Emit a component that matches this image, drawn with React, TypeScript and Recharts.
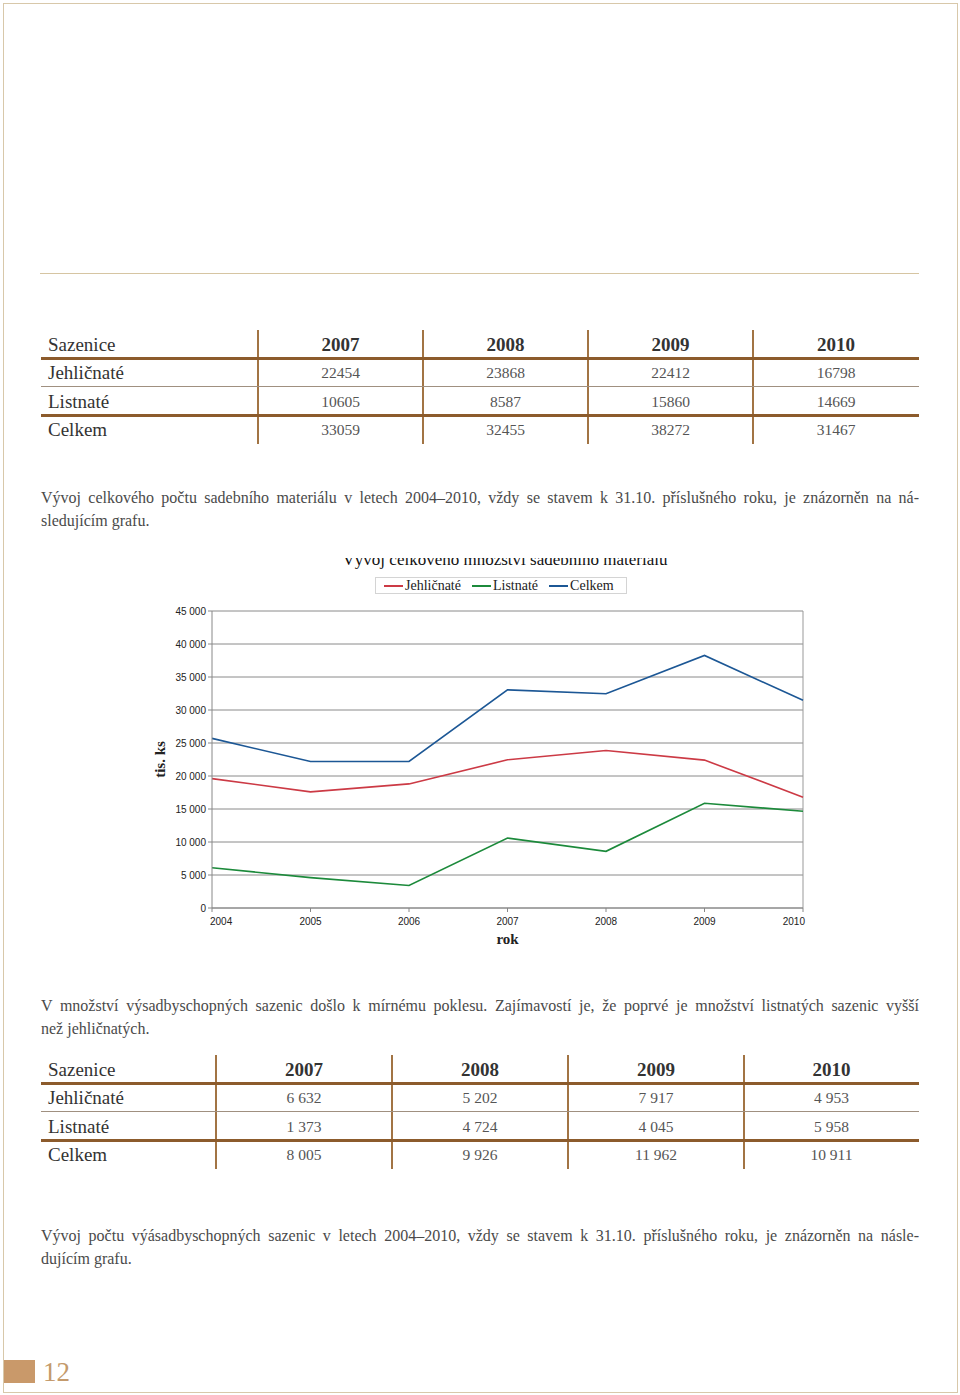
import React from 'react'
import {
  LineChart,
  Line,
  XAxis,
  YAxis,
  CartesianGrid,
  Legend,
  ReferenceLine,
} from 'recharts'

// chart data (tis. ks, stav k 31.10.)
const years = ['2004', '2005', '2006', '2007', '2008', '2009', '2010']
const jehlicnate = [19600, 17600, 18800, 22454, 23868, 22412, 16798]
const listnate = [6100, 4600, 3400, 10605, 8587, 15860, 14669]
const celkem = [25700, 22200, 22200, 33059, 32455, 38272, 31467]
const yTicks = [0, 5000, 10000, 15000, 20000, 25000, 30000, 35000, 40000, 45000]

// tables
const tableYears = ['2007', '2008', '2009', '2010']
const rowLabels = ['Jehličnaté', 'Listnaté', 'Celkem']
const sadebni = [
  ['22454', '23868', '22412', '16798'],
  ['10605', '8587', '15860', '14669'],
  ['33059', '32455', '38272', '31467'],
]
const vysadbyschopne = [
  ['6 632', '5 202', '7 917', '4 953'],
  ['1 373', '4 724', '4 045', '5 958'],
  ['8 005', '9 926', '11 962', '10 911'],
]

const SERIF = '"Liberation Serif", "DejaVu Serif", serif'
const SANS = '"Liberation Sans", Arial, sans-serif'
const BROWN = '#8c5b2c'
const TAN = '#c9996a'

const chartData = years.map((year, i) => ({
  year,
  jehl: jehlicnate[i],
  list: listnate[i],
  celk: celkem[i],
}))

const series = [
  { key: 'jehl', name: 'Jehličnaté', color: '#cc3a45' },
  { key: 'list', name: 'Listnaté', color: '#1c8a3b' },
  { key: 'celk', name: 'Celkem', color: '#1c5795' },
]

const fmt = (v: number) => (v >= 1000 ? `${Math.floor(v / 1000)} ${String(v % 1000).padStart(3, '0')}` : String(v))

function XTick(props: any) {
  const { x, y, payload, index } = props
  const last = years.length - 1
  const anchor = index === 0 ? 'start' : index === last ? 'end' : 'middle'
  const dx = index === 0 ? -2 : index === last ? 2 : 0
  return (
    <text x={x + dx} y={y + 4} dy="0.71em" textAnchor={anchor} fontSize={10} fill="#222" fontFamily={SANS}>
      {payload.value}
    </text>
  )
}

function ChartLegend() {
  return (
    <div
      style={{
        display: 'flex',
        alignItems: 'center',
        height: 15,
        border: '1px solid #d4d4d4',
        padding: '0 12px 0 8px',
        fontFamily: SERIF,
        fontSize: 14,
        color: '#222',
        background: '#fff',
      }}
    >
      {series.map((s, i) => (
        <span key={s.key} style={{ display: 'flex', alignItems: 'center', marginLeft: i ? 11 : 0 }}>
          <span style={{ display: 'inline-block', width: 19, height: 2, background: s.color, marginRight: 2 }} />
          {s.name}
        </span>
      ))}
    </div>
  )
}

function Para({ top, lines }: { top: number; lines: string[] }) {
  return (
    <div style={{ position: 'absolute', left: 41, top, width: 878, fontFamily: SERIF, fontSize: 16, color: '#4a4a4a' }}>
      {lines.map((l, i) => (
        <div
          key={i}
          style={{
            height: 23,
            lineHeight: '23px',
            textAlign: 'justify',
            textAlignLast: i < lines.length - 1 ? 'justify' : 'left',
            whiteSpace: 'nowrap',
          }}
        >
          {l}
        </div>
      ))}
    </div>
  )
}

function DataTable({
  top,
  cols,
  values,
}: {
  top: number
  cols: number[]
  values: string[][]
}) {
  // top = centre of header row; cols = column edges (first one is the label column)
  const rowH = 28.5
  const cell = (txt: string, cx: number, cy: number, style: React.CSSProperties, key: string) => (
    <div
      key={key}
      style={{
        position: 'absolute',
        left: cx - 80,
        width: 160,
        top: cy - 12,
        height: 24,
        lineHeight: '24px',
        textAlign: 'center',
        ...style,
      }}
    >
      {txt}
    </div>
  )
  const dataCols = cols.slice(1)
  const centers = dataCols.slice(0, -1).map((c, i) => (c + dataCols[i + 1]) / 2)
  const rowsY = [top, top + 28, top + 28 + rowH, top + 28 + rowH * 2]
  const hline = (y: number, h: number, color: string, key: string) => (
    <div key={key} style={{ position: 'absolute', left: 41, width: 878, top: y, height: h, background: color }} />
  )
  return (
    <>
      {dataCols.slice(0, -1).map((c, i) => (
        <div
          key={'v' + i}
          style={{ position: 'absolute', left: c - 1, top: top - 15, width: 2, height: 114, background: '#a27444' }}
        />
      ))}
      {hline(top + 12, 3, BROWN, 'h1')}
      {hline(top + 41, 1, '#a09080', 'h2')}
      {hline(top + 68.5, 3, BROWN, 'h3')}
      <div
        style={{
          position: 'absolute',
          left: 48,
          top: top - 12,
          height: 24,
          lineHeight: '24px',
          fontFamily: SERIF,
          fontSize: 19,
          color: '#333',
        }}
      >
        Sazenice
      </div>
      {tableYears.map((y, i) =>
        cell(y, centers[i], top, { fontFamily: SERIF, fontSize: 19, fontWeight: 'bold', color: '#333' }, 'y' + i),
      )}
      {rowLabels.map((label, r) => (
        <div
          key={'l' + r}
          style={{
            position: 'absolute',
            left: 48,
            top: rowsY[r + 1] - 12,
            height: 24,
            lineHeight: '24px',
            fontFamily: SERIF,
            fontSize: 19,
            color: '#333',
          }}
        >
          {label}
        </div>
      ))}
      {values.map((row, r) =>
        row.map((v, i) =>
          cell(v, centers[i], rowsY[r + 1], { fontFamily: SERIF, fontSize: 15.5, color: '#555' }, `c${r}-${i}`),
        ),
      )}
    </>
  )
}

export default function App() {
  return (
    <div
      style={{
        position: 'absolute',
        left: 0,
        top: 0,
        width: 960,
        height: 1395,
        background: '#fff',
        overflow: 'hidden',
      }}
    >
      {/* page frame */}
      <div
        style={{
          position: 'absolute',
          left: 3,
          top: 3,
          width: 953,
          height: 1388,
          border: '1px solid #d8c8aa',
        }}
      />
      <div style={{ position: 'absolute', left: 40, top: 273, width: 879, height: 1, background: '#d6c5a2' }} />

      <DataTable top={345} cols={[41, 258, 423, 588, 753, 919]} values={sadebni} />

      <Para
        top={486}
        lines={[
          'Vývoj celkového počtu sadebního materiálu v letech 2004–2010, vždy se stavem k 31.10. příslušného roku, je znázorněn na ná-',
          'sledujícím grafu.',
        ]}
      />

      {/* chart title, clipped at the top as in the scan */}
      <div style={{ position: 'absolute', left: 300, top: 558, width: 410, height: 11, overflow: 'hidden' }}>
        <div
          style={{
            position: 'absolute',
            top: -8,
            width: 410,
            textAlign: 'center',
            fontFamily: SERIF,
            fontSize: 17,
            lineHeight: '20px',
            color: '#111',
          }}
        >
          Vývoj celkového množství sadebního materiálu
        </div>
      </div>

      <div style={{ position: 'absolute', left: 140, top: 550 }}>
        <LineChart width={680} height={420} data={chartData} margin={{ top: 44, right: 17, left: 12, bottom: 42 }}>
          <CartesianGrid vertical={false} stroke="#8a8a8a" strokeWidth={1} />
          <XAxis
            dataKey="year"
            scale="point"
            padding={{ left: 0, right: 0 }}
            height={20}
            tickSize={4}
            tickMargin={2}
            tick={<XTick />}
            interval={0}
            stroke="#888"
            label={{
              value: 'rok',
              position: 'bottom',
              offset: 5,
              style: { fontFamily: SERIF, fontSize: 15, fontWeight: 'bold', fill: '#222' },
            }}
          />
          <YAxis
            width={60}
            domain={[0, 45000]}
            ticks={yTicks}
            tickFormatter={fmt}
            tickSize={4}
            tickMargin={2}
            stroke="#888"
            tick={{ fontSize: 10, fill: '#222', fontFamily: SANS }}
            label={{
              value: 'tis. ks',
              angle: -90,
              position: 'insideLeft',
              offset: 8,
              style: { fontFamily: SERIF, fontSize: 15, fontWeight: 'bold', fill: '#222', textAnchor: 'middle' },
            }}
          />
          <ReferenceLine x="2010" stroke="#999" strokeWidth={1} />
          <Legend
            verticalAlign="top"
            content={() => <ChartLegend />}
            wrapperStyle={{ top: 27, left: 235, width: 'auto' }}
          />
          {series.map((s) => (
            <Line
              key={s.key}
              type="linear"
              dataKey={s.key}
              name={s.name}
              stroke={s.color}
              strokeWidth={1.6}
              dot={false}
              isAnimationActive={false}
            />
          ))}
        </LineChart>
      </div>

      <Para
        top={994}
        lines={[
          'V množství výsadbyschopných sazenic došlo k mírnému poklesu. Zajímavostí je, že poprvé je množství listnatých sazenic vyšší',
          'než jehličnatých.',
        ]}
      />

      <DataTable top={1070} cols={[41, 216, 392, 568, 744, 919]} values={vysadbyschopne} />

      <Para
        top={1224}
        lines={[
          'Vývoj počtu výásadbyschopných sazenic v letech 2004–2010, vždy se stavem k 31.10. příslušného roku, je znázorněn na násle-',
          'dujícím grafu.',
        ]}
      />

      <div style={{ position: 'absolute', left: 4, top: 1360, width: 31, height: 23, background: TAN }} />
      <div
        style={{
          position: 'absolute',
          left: 43,
          top: 1356,
          fontFamily: SERIF,
          fontSize: 27,
          lineHeight: '32px',
          color: '#c49a6c',
        }}
      >
        12
      </div>
    </div>
  )
}
